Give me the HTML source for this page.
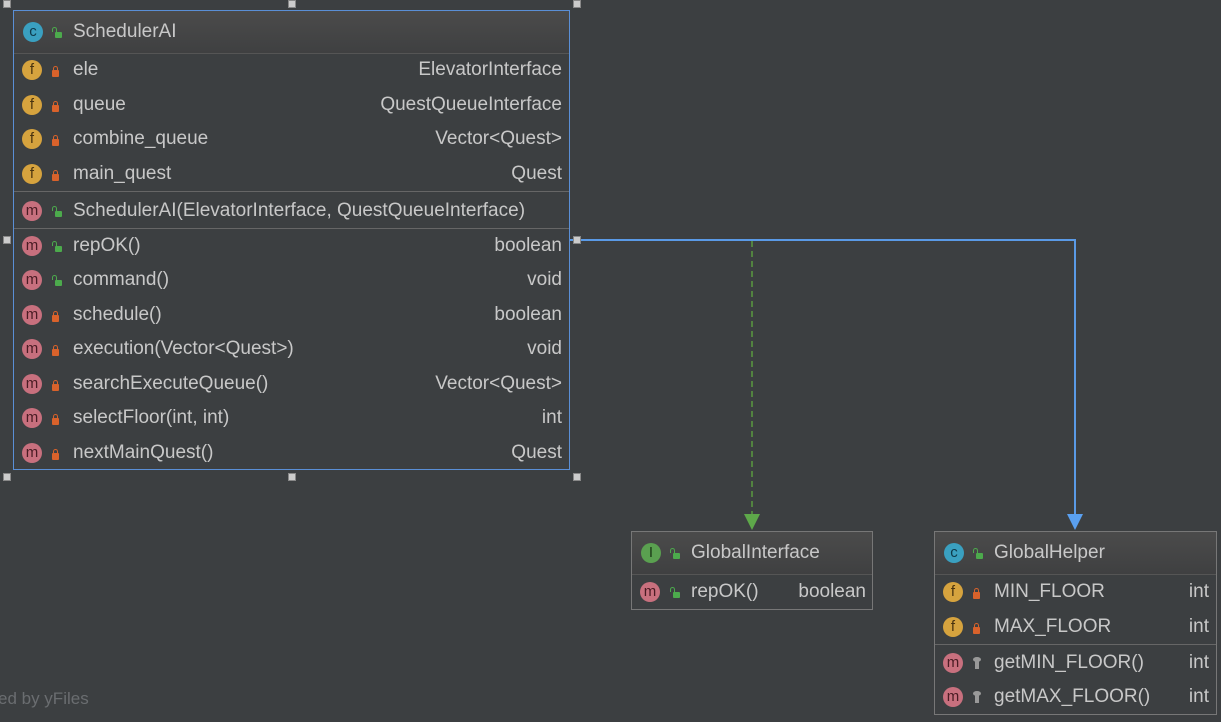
<!DOCTYPE html>
<html><head><meta charset="utf-8"><style>
body{margin:0;width:1221px;height:722px;background:#3c3f41;position:relative;overflow:hidden;font-family:"Liberation Sans",sans-serif;color:#c8c8c8;font-size:19px}
.box{position:absolute;border:1px solid #777;background:#3c3f41;box-sizing:border-box}
.sel{border:1px solid #5a8fd6}
.hdr{position:absolute;left:0;right:0;top:0;height:42px;background:linear-gradient(#4b4b4b,#3f4041);border-bottom:1px solid #555}
.sep{position:absolute;left:0;right:0;height:0;border-top:1px solid #666}
.t{position:absolute;white-space:nowrap;line-height:24px;height:24px}
.r{text-align:right}
.ic{position:absolute;width:20px;height:20px;border-radius:50%;font-size:15px;line-height:20px;text-align:center;color:#3a2a10}
.f{background:#d6a33e;color:#4a3410}
.m{background:#c8707e;color:#4a1c24}
.c{background:#3aa0c0;color:#0e3a4a}
.i{background:#5aa050;color:#1c3a18}
.lk{position:absolute;width:7px;height:7px;background:#d9622b;border-radius:1px}
.lk:before{content:"";position:absolute;left:1px;top:-4px;width:3px;height:3px;border:1px solid #d9622b;border-bottom:none;border-radius:3px 3px 0 0}
.ul{position:absolute;width:7px;height:6px;background:#4caa4c;border-radius:1px}
.ul:before{content:"";position:absolute;left:-3px;top:-5px;width:3px;height:4px;border:1px solid #4caa4c;border-bottom:none;border-radius:3px 3px 0 0}
.key{position:absolute;width:4px;height:9px;background:#999}
.key:before{content:"";position:absolute;left:-2px;top:-3px;width:8px;height:5px;border-radius:50%;background:#999}
.h{position:absolute;width:6px;height:6px;background:#ccc;border:1px solid #888}
</style></head><body>

<svg width="1221" height="722" style="position:absolute;left:0;top:0">
<line x1="752" y1="241" x2="752" y2="516" stroke="#5a9a40" stroke-width="1.5" stroke-dasharray="6,4"/>
<polygon points="744,514 760,514 752,530" fill="#5ea84a"/>
<polyline points="569,240 1075,240 1075,516" fill="none" stroke="#5a9ae6" stroke-width="2"/>
<polygon points="1067,514 1083,514 1075,530" fill="#5aa0f0"/>
</svg>

<div class="box sel" style="left:13px;top:10px;width:557px;height:460px">
<div class="hdr"></div>
<div class="sep" style="top:180px"></div>
<div class="sep" style="top:217px"></div>
</div>
<div class="ic c" style="left:23px;top:22px">c</div><div class="ul" style="left:55px;top:32px"></div>
<div class="t" style="left:73px;top:20px">SchedulerAI</div>

<div class="ic f" style="left:22px;top:60px">f</div><div class="lk" style="left:52px;top:70px"></div><div class="t" style="left:73px;top:58px">ele</div><div class="t r" style="right:659px;top:58px">ElevatorInterface</div>
<div class="ic f" style="left:22px;top:95px">f</div><div class="lk" style="left:52px;top:105px"></div><div class="t" style="left:73px;top:93px">queue</div><div class="t r" style="right:659px;top:93px">QuestQueueInterface</div>
<div class="ic f" style="left:22px;top:129px">f</div><div class="lk" style="left:52px;top:139px"></div><div class="t" style="left:73px;top:127px">combine_queue</div><div class="t r" style="right:659px;top:127px">Vector&lt;Quest&gt;</div>
<div class="ic f" style="left:22px;top:164px">f</div><div class="lk" style="left:52px;top:174px"></div><div class="t" style="left:73px;top:162px">main_quest</div><div class="t r" style="right:659px;top:162px">Quest</div>

<div class="ic m" style="left:22px;top:201px">m</div><div class="ul" style="left:55px;top:211px"></div><div class="t" style="left:73px;top:199px">SchedulerAI(ElevatorInterface, QuestQueueInterface)</div>

<div class="ic m" style="left:22px;top:236px">m</div><div class="ul" style="left:55px;top:246px"></div><div class="t" style="left:73px;top:234px">repOK()</div><div class="t r" style="right:659px;top:234px">boolean</div>
<div class="ic m" style="left:22px;top:270px">m</div><div class="ul" style="left:55px;top:280px"></div><div class="t" style="left:73px;top:268px">command()</div><div class="t r" style="right:659px;top:268px">void</div>
<div class="ic m" style="left:22px;top:305px">m</div><div class="lk" style="left:52px;top:315px"></div><div class="t" style="left:73px;top:303px">schedule()</div><div class="t r" style="right:659px;top:303px">boolean</div>
<div class="ic m" style="left:22px;top:339px">m</div><div class="lk" style="left:52px;top:349px"></div><div class="t" style="left:73px;top:337px">execution(Vector&lt;Quest&gt;)</div><div class="t r" style="right:659px;top:337px">void</div>
<div class="ic m" style="left:22px;top:374px">m</div><div class="lk" style="left:52px;top:384px"></div><div class="t" style="left:73px;top:372px">searchExecuteQueue()</div><div class="t r" style="right:659px;top:372px">Vector&lt;Quest&gt;</div>
<div class="ic m" style="left:22px;top:408px">m</div><div class="lk" style="left:52px;top:418px"></div><div class="t" style="left:73px;top:406px">selectFloor(int, int)</div><div class="t r" style="right:659px;top:406px">int</div>
<div class="ic m" style="left:22px;top:443px">m</div><div class="lk" style="left:52px;top:453px"></div><div class="t" style="left:73px;top:441px">nextMainQuest()</div><div class="t r" style="right:659px;top:441px">Quest</div>

<div class="h" style="left:3px;top:0px"></div><div class="h" style="left:288px;top:0px"></div><div class="h" style="left:573px;top:0px"></div>
<div class="h" style="left:3px;top:236px"></div><div class="h" style="left:573px;top:236px"></div>
<div class="h" style="left:3px;top:473px"></div><div class="h" style="left:288px;top:473px"></div><div class="h" style="left:573px;top:473px"></div>

<div class="box" style="left:631px;top:531px;width:242px;height:79px"><div class="hdr"></div></div>
<div class="ic i" style="left:641px;top:543px">I</div><div class="ul" style="left:673px;top:553px"></div><div class="t" style="left:691px;top:541px">GlobalInterface</div>
<div class="ic m" style="left:640px;top:582px">m</div><div class="ul" style="left:673px;top:592px"></div><div class="t" style="left:691px;top:580px">repOK()</div><div class="t r" style="right:355px;top:580px">boolean</div>

<div class="box" style="left:934px;top:531px;width:283px;height:184px"><div class="hdr"></div><div class="sep" style="top:112px"></div></div>
<div class="ic c" style="left:944px;top:543px">c</div><div class="ul" style="left:976px;top:553px"></div><div class="t" style="left:994px;top:541px">GlobalHelper</div>
<div class="ic f" style="left:943px;top:582px">f</div><div class="lk" style="left:973px;top:592px"></div><div class="t" style="left:994px;top:580px">MIN_FLOOR</div><div class="t r" style="right:12px;top:580px">int</div>
<div class="ic f" style="left:943px;top:617px">f</div><div class="lk" style="left:973px;top:627px"></div><div class="t" style="left:994px;top:615px">MAX_FLOOR</div><div class="t r" style="right:12px;top:615px">int</div>
<div class="ic m" style="left:943px;top:653px">m</div><div class="key" style="left:975px;top:660px"></div><div class="t" style="left:994px;top:651px">getMIN_FLOOR()</div><div class="t r" style="right:12px;top:651px">int</div>
<div class="ic m" style="left:943px;top:687px">m</div><div class="key" style="left:975px;top:694px"></div><div class="t" style="left:994px;top:685px">getMAX_FLOOR()</div><div class="t r" style="right:12px;top:685px">int</div>

<div class="t" style="left:-2px;top:687px;color:#6a6d70;font-size:17px">ed by yFiles</div>
</body></html>
